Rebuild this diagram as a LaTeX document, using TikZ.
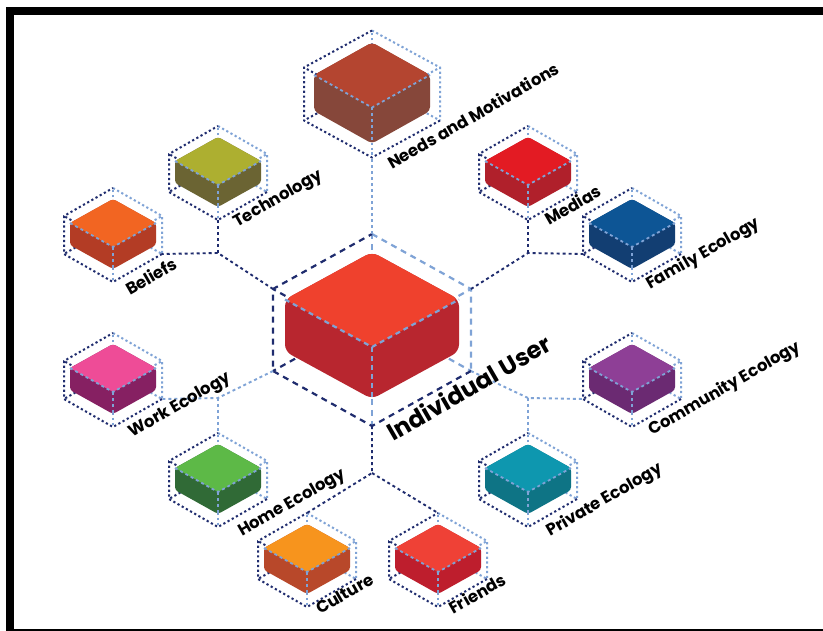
\documentclass[tikz,border=0pt]{standalone}
\usepackage{fontspec}
\setmainfont{Poppins}
\usetikzlibrary{calc}
\definecolor{navy}{HTML}{1F2C6E}
\definecolor{lblue}{HTML}{7FA3D6}
\definecolor{techT}{HTML}{ADAF30}\definecolor{techS}{HTML}{6B6433}
\definecolor{beliT}{HTML}{F26522}\definecolor{beliS}{HTML}{B33C25}
\definecolor{mediT}{HTML}{E31B23}\definecolor{mediS}{HTML}{B0202B}
\definecolor{famiT}{HTML}{0D5595}\definecolor{famiS}{HTML}{123E72}
\definecolor{workT}{HTML}{EE4C97}\definecolor{workS}{HTML}{862062}
\definecolor{homeT}{HTML}{5DB947}\definecolor{homeS}{HTML}{306A36}
\definecolor{commT}{HTML}{8E3F96}\definecolor{commS}{HTML}{6B2A72}
\definecolor{privT}{HTML}{0E97AF}\definecolor{privS}{HTML}{0E7485}
\definecolor{cultT}{HTML}{F7941D}\definecolor{cultS}{HTML}{B8482A}
\definecolor{frieT}{HTML}{EF4136}\definecolor{frieS}{HTML}{BE1E2D}
\definecolor{needT}{HTML}{B44530}\definecolor{needS}{HTML}{86473A}
\definecolor{mainT}{HTML}{EF412D}\definecolor{mainS}{HTML}{B8262F}
\newcommand{\isobox}[5]{%
  \coordinate (#1-C)  at ({#2},{#3});
  \coordinate (#1-T)  at ({#2},{#3-\hxH-0.5*\hxV});
  \coordinate (#1-B)  at ({#2},{#3+\hxH+0.5*\hxV});
  \coordinate (#1-UL) at ({#2-\hxW},{#3-0.5*\hxV});
  \coordinate (#1-LL) at ({#2-\hxW},{#3+0.5*\hxV});
  \coordinate (#1-UR) at ({#2+\hxW},{#3-0.5*\hxV});
  \coordinate (#1-LR) at ({#2+\hxW},{#3+0.5*\hxV});
  \coordinate (#1-BB) at ({#2},{#3-\hxH+0.5*\hxV});
  \coordinate (#1-FT) at ({#2},{#3+\hxH-0.5*\hxV});
  \draw[lb] (#1-BB) -- (#1-T);
  \draw[nv] (#1-BB) -- (#1-LL);
  \draw[lb] (#1-BB) -- (#1-LR);
  \draw[nv] (#1-FT) -- (#1-UL);
  \draw[lb] (#1-FT) -- (#1-UR);
  \draw[lb] (#1-FT) -- (#1-B);
  \draw[lb] (#1-T) -- (#1-UR) -- (#1-LR);
  \draw[nv] (#1-LR) -- (#1-B) -- (#1-LL) -- (#1-UL) -- (#1-T);
  \coordinate (#1-cT)  at ({#2},{#3+\cxO-\cxH-0.5*\cxV});
  \coordinate (#1-cB)  at ({#2},{#3+\cxO+\cxH+0.5*\cxV});
  \coordinate (#1-cF)  at ({#2},{#3+\cxO+\cxH-0.5*\cxV});
  \coordinate (#1-cL)  at ({#2-\cxW},{#3+\cxO-0.5*\cxV});
  \coordinate (#1-cLb) at ({#2-\cxW},{#3+\cxO+0.5*\cxV});
  \coordinate (#1-cR)  at ({#2+\cxW},{#3+\cxO-0.5*\cxV});
  \coordinate (#1-cRb) at ({#2+\cxW},{#3+\cxO+0.5*\cxV});
  \fill[#5, rounded corners=\cxR] (#1-cT) -- (#1-cR) -- (#1-cRb) -- (#1-cB) -- (#1-cLb) -- (#1-cL) -- cycle;
  \fill[#4, rounded corners=\cxR] (#1-cT) -- (#1-cR) -- (#1-cF) -- (#1-cL) -- cycle;
  \draw[lbc] (#1-cL) -- (#1-cF) -- (#1-cR);
  \draw[lbc] (#1-cF) -- (#1-cB);
}
\tikzset{
  nv/.style={navy, line width=2pt, dash pattern=on 2.2pt off 2.6pt},
  lb/.style={lblue, line width=2pt, dash pattern=on 2.2pt off 2.6pt},
  lbc/.style={lblue, line width=1.8pt, dash pattern=on 3pt off 3pt},
  con/.style={navy, line width=1.9pt, dash pattern=on 3pt off 3pt},
  conl/.style={lblue, line width=1.9pt, dash pattern=on 3pt off 3pt},
  lab/.style={anchor=base west, rotate=30, inner sep=0pt, font=\bfseries\fontsize{16.5}{16.5}\selectfont},
}
\begin{document}
\begin{tikzpicture}[x=1pt, y=-1pt]
\useasboundingbox (0,0) rectangle (823,631);
\fill[white] (0,0) rectangle (823,631);
% frame
\fill[black] (6,7) rectangle (14,631);
\fill[black] (6,7) rectangle (823,15);
\fill[black] (14,628.5) rectangle (823,631);

% small boxes
\def\hxW{49}\def\hxH{28}\def\hxV{38}
\def\cxW{43}\def\cxH{24}\def\cxV{22}\def\cxO{-1}\def\cxR{3pt}
\isobox{tech}{218}{173}{techT}{techS}
\isobox{beli}{113}{235}{beliT}{beliS}
\isobox{medi}{528}{173}{mediT}{mediS}
\isobox{fami}{632}{235}{famiT}{famiS}
\isobox{work}{113}{380}{workT}{workS}
\isobox{home}{218}{480}{homeT}{homeS}
\isobox{comm}{632}{380}{commT}{commS}
\isobox{priv}{528}{480}{privT}{privS}
\isobox{cult}{307}{560}{cultT}{cultS}
\isobox{frie}{438}{560}{frieT}{frieS}

% needs box
\begin{scope}
\def\hxW{68}\def\hxH{37}\def\hxV{53}
\def\cxW{58}\def\cxH{32.5}\def\cxV{36}\def\cxO{-1}\def\cxR{4pt}
\isobox{need}{372}{94}{needT}{needS}
\end{scope}

% main box
\begin{scope}
\tikzset{
  nv/.style={navy, line width=2.2pt, dash pattern=on 6pt off 5pt},
  lb/.style={lblue, line width=2.2pt, dash pattern=on 6pt off 5pt},
  lbc/.style={lblue, line width=2.2pt, dash pattern=on 5pt off 4pt},
}
\def\hxW{99}\def\hxH{55}\def\hxV{82}
\def\cxW{87}\def\cxH{47.5}\def\cxV{52}\def\cxO{-4.5}\def\cxR{7pt}
\isobox{main}{372}{330}{mainT}{mainS}
\end{scope}

% junctions
\coordinate (j1) at (218,253);
\coordinate (j2) at (528,253);
\coordinate (j3) at (218,398);
\coordinate (j4) at (528,398);
\coordinate (j5) at (372,473);

% connectors
\draw[conl] (main-T) -- (need-B);
\draw[con] (main-UL) -- (j1) -- (beli-LR);
\draw[con] (j1) -- (tech-B);
\draw[con] (main-UR) -- (j2) -- (fami-LL);
\draw[con] (j2) -- (medi-B);
\draw[conl] (main-LL) -- (j3) -- (work-LR);
\draw[conl] (j3) -- (home-T);
\draw[conl] (main-LR) -- (j4) -- (comm-LL);
\draw[conl] (j4) -- (priv-T);
\draw[con] (main-B) -- (j5) -- (cult-T);
\draw[con] (j5) -- (frie-T);

% labels
\node[lab] (l-need) at (392,170) {Needs and Motivations};
\node[lab] (l-tech) at (237,228) {Technology};
\node[lab] (l-beli) at (130,296) {Beliefs};
\node[lab] (l-medi) at (549,226) {Medias};
\node[lab] (l-fami) at (650,290) {Family Ecology};
\node[lab] (l-work) at (132,438) {Work Ecology};
\node[lab] (l-home) at (242,537) {Home Ecology};
\node[lab] (l-comm) at (652,436) {Community Ecology};
\node[lab] (l-priv) at (550,537) {Private Ecology};
\node[lab] (l-cult) at (320,615) {Culture};
\node[lab] (l-frie) at (453,615) {Friends};
\node[lab, font=\bfseries\fontsize{24}{24}\selectfont] (l-main) at (393,442) {Individual User};
\end{tikzpicture}
\end{document}
